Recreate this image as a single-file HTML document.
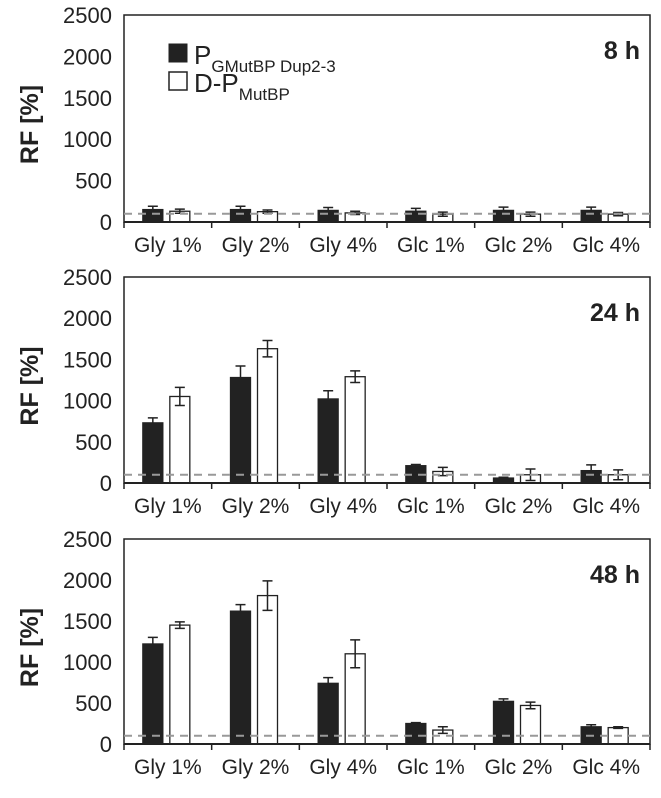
<!DOCTYPE html>
<html><head><meta charset="utf-8"><style>
html,body{margin:0;padding:0;background:#fff;}
svg{display:block;font-family:"Liberation Sans","DejaVu Sans",sans-serif;}
</style></head><body>
<svg id="chart" width="661" height="798" xmlns="http://www.w3.org/2000/svg"></svg>
<script>
const categories = ["Gly 1%","Gly 2%","Gly 4%","Glc 1%","Glc 2%","Glc 4%"];
const panelLabels = ["8 h","24 h","48 h"];
const yTicks = [0,500,1000,1500,2000,2500];
const black8 = [150,150,140,130,140,140];
const black8Err = [40,40,35,35,40,40];
const white8 = [130,125,110,95,95,95];
const white8Err = [25,20,20,25,25,20];
const black24 = [730,1280,1020,210,60,150];
const black24Err = [60,140,100,15,10,70];
const white24 = [1050,1630,1290,140,100,100];
const white24Err = [110,100,70,50,70,60];
const black48 = [1220,1620,740,250,520,210];
const black48Err = [80,80,70,10,30,25];
const white48 = [1450,1810,1100,170,470,200];
const white48Err = [40,180,170,40,40,10];
const baseline = 100;

const blackSeries=[black8,black24,black48], blackErrs=[black8Err,black24Err,black48Err];
const whiteSeries=[white8,white24,white48], whiteErrs=[white8Err,white24Err,white48Err];
const svg=document.getElementById('chart');
const NS="http://www.w3.org/2000/svg";
function mk(tag,attrs,parent){const e=document.createElementNS(NS,tag);for(const k in attrs)e.setAttribute(k,attrs[k]);(parent||svg).appendChild(e);return e;}
const L=124,R=650,yMax=2500;
const tops=[15,277,539],zeros=[222,483,744];
const bw=20;
for(let p=0;p<3;p++){
  const g=mk('g',{});
  
  
  const y=v=>zeros[p]-(v/yMax)*(zeros[p]-tops[p]);
  const cw=(R-L)/categories.length;
  const xc=i=>L+cw*(i+0.5);
  const fr=mk('rect',{x:L,y:y(yMax),width:R-L,height:zeros[p]-y(yMax),fill:'none',stroke:'#222','stroke-width':1.5},g);
  
  
  yTicks.forEach(t=>{
    const tx=mk('text',{x:L-12,y:y(t)+8,'text-anchor':'end','font-size':22,fill:'#222'},g);
    tx.textContent=t;
    
    
  });
  for(let i=0;i<=categories.length;i++){
    const tl=mk('line',{x1:L+cw*i,x2:L+cw*i,y1:zeros[p],y2:zeros[p]+6,stroke:'#222','stroke-width':1.5},g);
    
    
  }
  categories.forEach((c,i)=>{
    const tx=mk('text',{x:xc(i),y:zeros[p]+30,'text-anchor':'middle','font-size':21,fill:'#222'},g);
    tx.textContent=c;
    
    
  });
  const drawBar=(x,v,e,fill,name)=>{
    const r=mk('rect',{x:x,y:y(v),width:bw,height:zeros[p]-y(v),fill:fill,stroke:'#222','stroke-width':1.3},g);
    
    
    const cx=x+bw/2;
    const el=mk('path',{d:`M${cx},${y(v+e)}V${y(Math.max(0,v-e))}M${cx-5},${y(v+e)}H${cx+5}M${cx-5},${y(Math.max(0,v-e))}H${cx+5}`,stroke:'#222','stroke-width':1.5,fill:'none'},g);
    
    
  };
  categories.forEach((c,i)=>{
    drawBar(xc(i)-25,blackSeries[p][i],blackErrs[p][i],'#222','bar-pgmutbp');
    drawBar(xc(i)+2,whiteSeries[p][i],whiteErrs[p][i],'#fff','bar-dpmutbp');
  });
  const dl=mk('line',{x1:L,x2:R,y1:y(baseline),y2:y(baseline),stroke:'#999','stroke-width':2,'stroke-dasharray':'8,6'},g);
  
  
  mk('line',{x1:L,x2:R,y1:zeros[p],y2:zeros[p],stroke:'#222','stroke-width':2},g);
  const pl=mk('text',{x:640,y:y(yMax)+44,'text-anchor':'end','font-size':25,'font-weight':'bold',fill:'#222'},g);
  pl.textContent=panelLabels[p];
  
  
  const yt=mk('text',{x:0,y:0,transform:`translate(38,${(tops[p]+zeros[p])/2+6}) rotate(-90)`,'text-anchor':'middle','font-size':25,'font-weight':'bold',fill:'#222'},g);
  yt.textContent='RF [%]';
  
  
}
const lg=mk('g',{});


const s1=mk('rect',{x:169,y:44,width:18,height:18,fill:'#222',stroke:'#222'},lg);


const s2=mk('rect',{x:169,y:72,width:18,height:18,fill:'#fff',stroke:'#222','stroke-width':1.5},lg);


const t1=mk('text',{x:194,y:64,'font-size':26,fill:'#222'},lg);
t1.innerHTML='P<tspan font-size="17" dy="8">GMutBP Dup2-3</tspan>';


const t2=mk('text',{x:194,y:92,'font-size':26,fill:'#222'},lg);
t2.innerHTML='D-P<tspan font-size="17" dy="8">MutBP</tspan>';


</script>
</body></html>
